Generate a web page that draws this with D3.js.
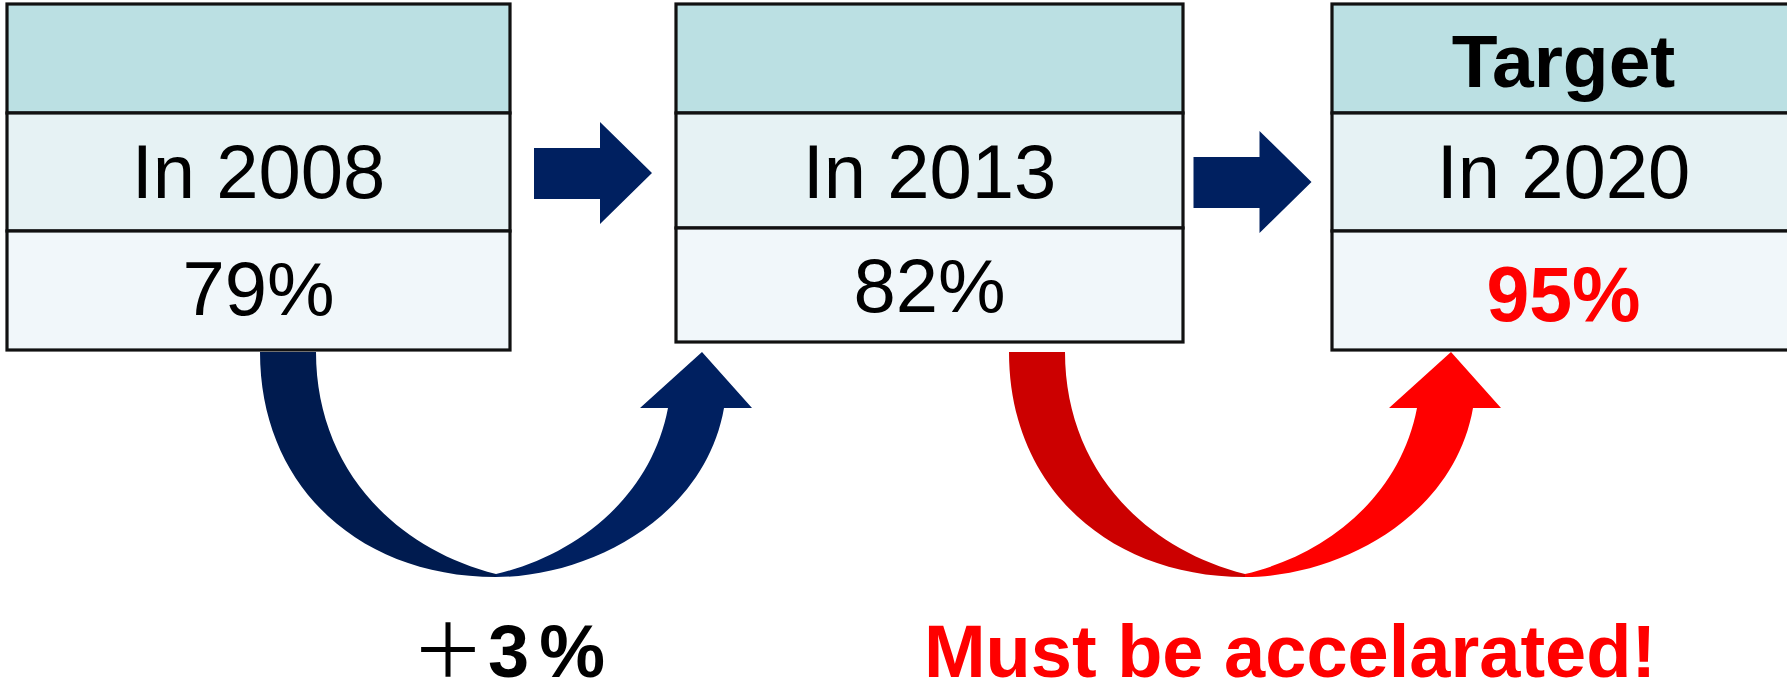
<!DOCTYPE html>
<html>
<head>
<meta charset="utf-8">
<script src="https://cdn.jsdelivr.net/npm/d3@7"></script>
<style>
  html, body { margin: 0; padding: 0; background: #ffffff; overflow: hidden; }
  svg { display: block; }
</style>
</head>
<body>
<div id="chart"></div>
<script>
// ---------------- data ----------------
const periods   = ["In 2008", "In 2013", "In 2020"];
const headers   = ["", "", "Target"];
const rates     = [79, 82, 95];
const isTarget  = [false, false, true];
const changeLabels = ["\uFF0B3%", "Must be accelarated!"];

// ---------------- layout ----------------
const W = 1787, H = 692;
const svg = d3.select("#chart").append("svg")
  .attr("width", W).attr("height", H);

// box geometry (left edge, width, row boundaries) keyed by period
const boxLeft  = d3.scaleOrdinal().domain(periods).range([7, 676, 1332]);
const boxWidth = d3.scaleOrdinal().domain(periods).range([503, 507, 463]);
const rowEdges = d3.scaleOrdinal().domain(periods).range([
  [4, 113, 231, 350],
  [4, 113, 228, 342],
  [4, 113, 231, 350]
]);
const rowFill = ["#BBE0E3", "#E6F2F4", "#F1F7FA"];
const FONT = "'Liberation Sans', Arial, Helvetica, sans-serif";

const boxes = svg.selectAll("g.box")
  .data(periods.map((p, i) => ({ period: p, header: headers[i], rate: rates[i], target: isTarget[i] })))
  .join("g").attr("class", "box");

boxes.each(function (d) {
  const g = d3.select(this);
  const x = boxLeft(d.period), w = boxWidth(d.period), e = rowEdges(d.period);
  const cx = x + w / 2;
  for (let r = 0; r < 3; r++) {
    g.append("rect")
      .attr("x", x).attr("y", e[r])
      .attr("width", w).attr("height", e[r + 1] - e[r])
      .attr("fill", rowFill[r])
      .attr("stroke", "#111").attr("stroke-width", 3.2);
  }
  if (d.header) {
    g.append("text")
      .attr("x", cx).attr("y", e[0] + 83)
      .attr("text-anchor", "middle")
      .attr("font-family", FONT).attr("font-weight", "bold")
      .attr("font-size", 75).attr("fill", "#000")
      .text(d.header);
  }
  g.append("text")
    .attr("x", cx).attr("y", e[1] + 85)
    .attr("text-anchor", "middle")
    .attr("font-family", FONT).attr("font-size", 76).attr("fill", "#000")
    .text(d.period);
  g.append("text")
    .attr("x", cx).attr("y", d.target ? e[2] + 90 : e[2] + 84)
    .attr("text-anchor", "middle")
    .attr("font-family", FONT)
    .attr("font-weight", d.target ? "bold" : "normal")
    .attr("font-size", d.target ? 77 : 76)
    .attr("fill", d.target ? "#FF0000" : "#000")
    .text(d.rate + "%");
});

// ---------------- straight block arrows between boxes ----------------
const gapArrowY = [173, 182];
const gapArrowShift = [0, -5];
for (let i = 0; i < periods.length - 1; i++) {
  const a = periods[i], b = periods[i + 1];
  const gapMid = (boxLeft(a) + boxWidth(a) + boxLeft(b)) / 2;
  const x0 = gapMid - 59 + gapArrowShift[i], cy = gapArrowY[i];
  const pts = [
    [x0, cy - 25], [x0 + 66, cy - 25], [x0 + 66, cy - 51], [x0 + 118, cy],
    [x0 + 66, cy + 51], [x0 + 66, cy + 26], [x0, cy + 26]
  ];
  svg.append("path")
    .attr("d", d3.line()(pts) + "Z")
    .attr("fill", "#002060");
}

// ---------------- curved up arrows ----------------
const curveAnchorX = [260, 1009];
const curveTopY = 352;
const curveColors = [["#001B4F", "#002060"], ["#CC0000", "#FF0000"]];

function leftHalf() {
  const path = d3.path();
  path.moveTo(0, 0);
  path.lineTo(56, 0);
  path.bezierCurveTo(56, 112, 130, 195, 236, 222);
  path.lineTo(236, 225);
  path.bezierCurveTo(100, 225, 0, 135, 0, 0);
  path.closePath();
  return path.toString();
}
function rightHalf() {
  const path = d3.path();
  path.moveTo(236, 222);
  path.bezierCurveTo(310, 205, 390, 150, 408, 56);
  path.lineTo(380, 56);
  path.lineTo(442, 0);
  path.lineTo(492, 56);
  path.lineTo(464, 56);
  path.bezierCurveTo(445, 165, 330, 225, 236, 225);
  path.closePath();
  return path.toString();
}
curveAnchorX.forEach((ax, i) => {
  const g = svg.append("g").attr("transform", `translate(${ax},${curveTopY})`);
  g.append("path").attr("d", leftHalf()).attr("fill", curveColors[i][0]);
  g.append("path").attr("d", rightHalf()).attr("fill", curveColors[i][1]);
});

// ---------------- change labels ----------------
const labelY = 677;
svg.append("text")
  .attr("x", 411).attr("y", labelY)
  .attr("font-family", FONT + ", 'Noto Sans CJK JP'")
  .attr("font-weight", "normal")
  .attr("font-size", 74).attr("fill", "#000")
  .text(changeLabels[0].slice(0, 1));
const pctLabel = svg.append("text")
  .attr("x", 488).attr("y", labelY)
  .attr("font-family", FONT).attr("font-weight", "bold")
  .attr("font-size", 74).attr("fill", "#000");
pctLabel.append("tspan").text(changeLabels[0].slice(1, 2));
pctLabel.append("tspan").attr("dx", 10).text(changeLabels[0].slice(2));

svg.append("text")
  .attr("x", 1290).attr("y", labelY)
  .attr("text-anchor", "middle")
  .attr("font-family", FONT).attr("font-weight", "bold")
  .attr("font-size", 74).attr("fill", "#FF0000")
  .text(changeLabels[1]);
</script>
</body>
</html>
